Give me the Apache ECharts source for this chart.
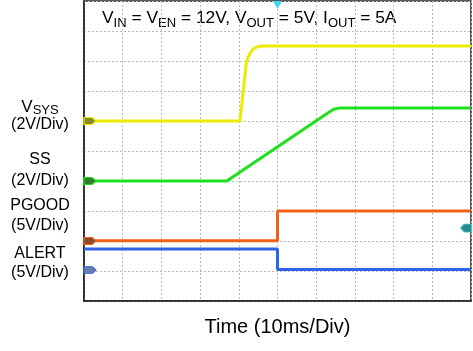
<!DOCTYPE html>
<html>
<head>
<meta charset="utf-8">
<script src="https://cdn.jsdelivr.net/npm/echarts@6/dist/echarts.min.js"></script>
<style>
  html, body { margin: 0; padding: 0; background: #fff; }
  #scope { width: 473px; height: 351px; }
</style>
</head>
<body>
<div id="scope"></div>
<script>
// time in divisions (10 ms/div), amplitude in divisions from bottom of screen
const vsysTime = [0, 4.03, 4.2, 4.27, 4.33, 4.4, 4.5, 4.62, 10];
const vsysVal = [6.0, 6.0, 8.0, 8.2, 8.33, 8.43, 8.48, 8.5, 8.5];

const ssTime = [0, 3.69, 6.3, 6.45, 6.6, 10];
const ssVal = [4.0, 4.0, 6.27, 6.39, 6.43, 6.43];

const pgoodTime = [0, 5.0, 5.0, 10];
const pgoodVal = [2.01, 2.01, 3.0, 3.0];

const alertTime = [0, 5.0, 5.0, 10];
const alertVal = [1.73, 1.73, 1.05, 1.05];

// ground reference markers (left edge) for each channel
const refLevels = [6.0, 4.0, 2.0, 1.03];
const triggerTime = 5.0;
const triggerLevel = 2.43;

const toPairs = (t, v) => t.map((x, i) => [x, v[i]]);

const tagPath = "path://M0,0 L8,0 L12,4 L8,8 L0,8 Z";
const leftTagPath = "path://M12,0 L4,0 L0,4 L4,8 L12,8 Z";

function trace(name, color, tagColor, t, v, ref, extraMarks) {
  return {
    name: name,
    type: "line",
    data: toPairs(t, v),
    symbol: "none",
    smooth: false,
    lineStyle: { color: color, width: 3 },
    z: 3,
    markPoint: {
      silent: true,
      animation: false,
      label: { show: false },
      data: [
        {
          coord: [0, ref],
          symbol: tagPath,
          symbolSize: [12, 7],
          symbolOffset: [6, 0],
          itemStyle: { color: tagColor, borderColor: color, borderWidth: 1 },
        },
      ].concat(extraMarks || []),
    },
  };
}

const chart = echarts.init(document.getElementById("scope"));

const option = {
  animation: false,
  backgroundColor: "#fff",
  grid: {
    left: 84,
    top: 1,
    width: 387,
    height: 300,
    show: true,
    borderColor: "#222",
    borderWidth: 1.5,
  },
  xAxis: {
    type: "value",
    min: 0,
    max: 10,
    interval: 1,
    axisLine: { lineStyle: { color: "#222", width: 1.5 } },
    axisTick: { show: false },
    axisLabel: { show: false },
    splitLine: { lineStyle: { color: "#bbb", type: [2, 2], width: 1 } },
    name: "Time (10ms/Div)",
    nameLocation: "middle",
    nameGap: 16,
    nameTextStyle: { color: "#000", fontSize: 20, fontFamily: "Liberation Sans, Arial, sans-serif" },
  },
  yAxis: {
    type: "value",
    min: 0,
    max: 10,
    interval: 1,
    axisLine: { show: true, lineStyle: { color: "#222", width: 1.5 } },
    axisTick: { show: false },
    axisLabel: { show: false },
    splitLine: { lineStyle: { color: "#bbb", type: [2, 2], width: 1 } },
  },
  series: [
    trace("ALERT", "#2f62e6", "#6a7aaa", alertTime, alertVal, refLevels[3]),
    trace("PGOOD", "#f0601a", "#8a4a30", pgoodTime, pgoodVal, refLevels[2], [
      {
        coord: [triggerTime, 10],
        symbol: "path://M0,0 L10,0 L5,9 Z",
        symbolSize: [9, 8],
        symbolOffset: [0, 4],
        itemStyle: { color: "#3cd8ea" },
      },
      {
        coord: [10, triggerLevel],
        symbol: leftTagPath,
        symbolSize: [11, 8],
        symbolOffset: [-5, 0],
        itemStyle: { color: "#2a8a90", borderColor: "#4cc8d0", borderWidth: 1 },
      },
    ]),
    trace("SS", "#1fe01f", "#2f7a2f", ssTime, ssVal, refLevels[1]),
    trace("VSYS", "#ecec00", "#8a8a20", vsysTime, vsysVal, refLevels[0]),
  ],
  graphic: [
    {
      type: "text",
      left: 102,
      top: 10,
      style: {
        text: "{m|V}{s|IN}{m| = V}{s|EN}{m| = 12V, V}{s|OUT}{m| = 5V, I}{s|OUT}{m| = 5A}",
        fill: "#000",
        rich: {
          m: { fontSize: 17.4, lineHeight: 22, fontFamily: "Liberation Sans, Arial, sans-serif" },
          s: { fontSize: 13, lineHeight: 10, verticalAlign: "bottom", fontFamily: "Liberation Sans, Arial, sans-serif" },
        },
      },
    },
    {
      type: "text",
      style: {
        x: 40, y: 97, align: "center",
        text: "{m|V}{s|SYS}",
        fill: "#000",
        rich: {
          m: { fontSize: 17, lineHeight: 20, fontFamily: "Liberation Sans, Arial, sans-serif" },
          s: { fontSize: 13, lineHeight: 10, verticalAlign: "bottom", fontFamily: "Liberation Sans, Arial, sans-serif" },
        },
      },
    },
    { type: "text", style: { x: 40, y: 125, align: "center", verticalAlign: "middle", text: "(2V/Div)", fill: "#000", font: "16px Liberation Sans, Arial, sans-serif" } },
    { type: "text", style: { x: 40, y: 160, align: "center", verticalAlign: "middle", text: "SS", fill: "#000", font: "16px Liberation Sans, Arial, sans-serif" } },
    { type: "text", style: { x: 40, y: 181, align: "center", verticalAlign: "middle", text: "(2V/Div)", fill: "#000", font: "16px Liberation Sans, Arial, sans-serif" } },
    { type: "text", style: { x: 40, y: 206, align: "center", verticalAlign: "middle", text: "PGOOD", fill: "#000", font: "16px Liberation Sans, Arial, sans-serif" } },
    { type: "text", style: { x: 40, y: 226, align: "center", verticalAlign: "middle", text: "(5V/Div)", fill: "#000", font: "16px Liberation Sans, Arial, sans-serif" } },
    { type: "text", style: { x: 40, y: 254, align: "center", verticalAlign: "middle", text: "ALERT", fill: "#000", font: "16px Liberation Sans, Arial, sans-serif" } },
    { type: "text", style: { x: 40, y: 273, align: "center", verticalAlign: "middle", text: "(5V/Div)", fill: "#000", font: "16px Liberation Sans, Arial, sans-serif" } },
  ],
};

chart.setOption(option);
</script>
</body>
</html>
